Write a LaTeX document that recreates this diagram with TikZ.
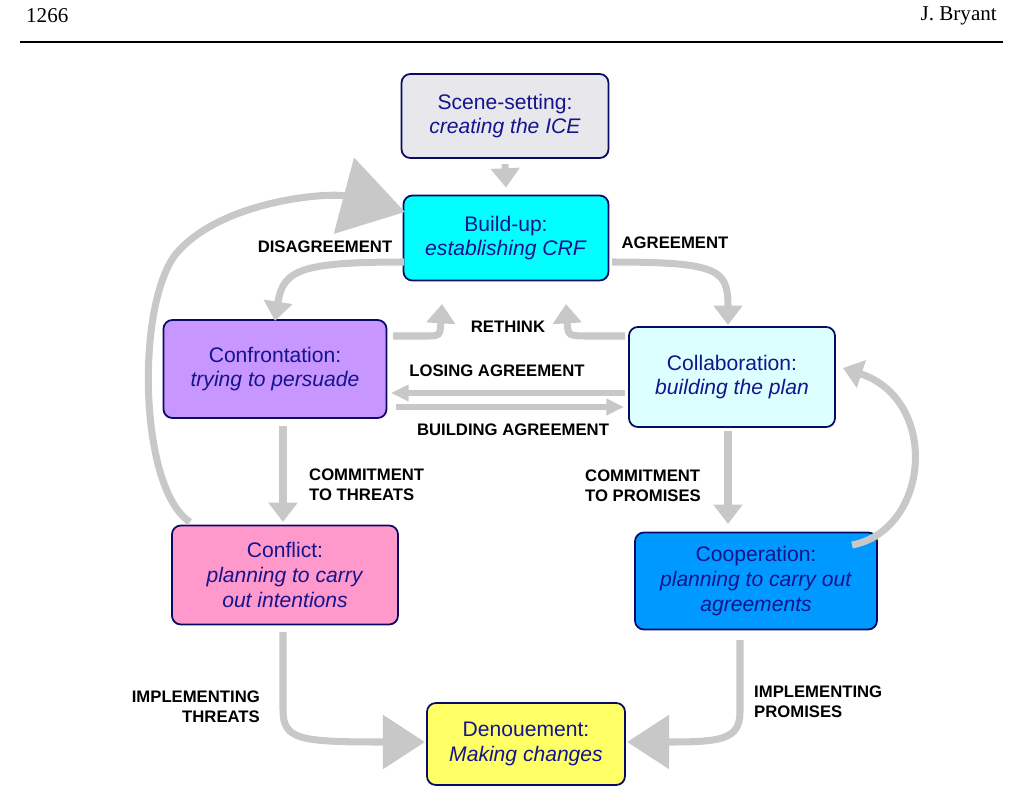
\documentclass[tikz,border=0pt]{standalone}
\usepackage{fontspec}
\setmainfont{Liberation Serif}
\newfontfamily\labelfont{Liberation Sans}
\usetikzlibrary{arrows.meta}

\definecolor{boxline}{RGB}{10,10,100}
\definecolor{boxtext}{RGB}{20,20,140}
\definecolor{arrowgray}{RGB}{200,200,200}
\definecolor{scenefill}{RGB}{232,232,236}
\definecolor{buildfill}{RGB}{0,255,255}
\definecolor{confrontfill}{RGB}{200,150,255}
\definecolor{collabfill}{RGB}{220,255,255}
\definecolor{conflictfill}{RGB}{255,153,204}
\definecolor{coopfill}{RGB}{0,153,255}
\definecolor{denouefill}{RGB}{255,255,102}

\tikzset{
  stage/.style={draw=boxline, line width=1pt, rounded corners=5pt, align=center,
    text=boxtext, font=\labelfont\fontsize{12}{14}\selectfont, inner sep=0pt},
  flow/.style={draw=arrowgray, line width=4pt, -{Triangle[length=11pt,width=16pt]}},
  thin flow/.style={draw=arrowgray, line width=3pt, -{Triangle[length=10pt,width=9pt]}},
  tag/.style={font=\labelfont\bfseries\fontsize{9.5}{11.5}\selectfont}
}

\begin{document}
\begin{tikzpicture}[x=0.02cm, y=-0.02cm]
                \useasboundingbox (0,0) rectangle (1025,802);
                \node[anchor=west, font=\fontsize{12}{14}\selectfont] (pg) at (20,16) {1266};
                \node[anchor=east, font=\fontsize{12}{14}\selectfont] (au) at (1003,16) {J. Bryant};
                \draw[line width=1pt] (20,42) -- (1003,42);
                % stages
                \node[stage, fill=scenefill, minimum width=4.14cm, minimum height=1.68cm] (scene) at (505,116) {Scene-setting:\\\textit{creating the ICE}};
                \node[stage, fill=buildfill, minimum width=4.1cm, minimum height=1.7cm] (build) at (506,238) {Build-up:\\\textit{establishing CRF}};
                \node[stage, fill=confrontfill, minimum width=4.46cm, minimum height=1.96cm] (confront) at (275,369) {Confrontation:\\\textit{trying to persuade}};
                \node[stage, fill=collabfill, minimum width=4.12cm, minimum height=2cm] (collab) at (732,377) {Collaboration:\\\textit{building the plan}};
                \node[stage, fill=conflictfill, minimum width=4.52cm, minimum height=1.98cm] (conflict) at (285,575) {Conflict:\\\textit{planning to carry}\\\textit{out intentions}};
                \node[stage, fill=coopfill, minimum width=4.84cm, minimum height=1.94cm] (coop) at (756,581) {Cooperation:\\\textit{planning to carry out}\\\textit{agreements}};
                \node[stage, fill=denouefill, minimum width=3.96cm, minimum height=1.64cm] (denoue) at (526,744) {Denouement:\\\textit{Making changes}};
                % flows
                \draw[flow] ([yshift=-3pt]scene.south) -- ([yshift=4pt]build.north);
                \draw[flow] (404,262) .. controls (300,262) and (283,270) .. ([yshift=-1pt]confront.north);
                \draw[flow] (612,262) .. controls (720,262) and (728,270) .. (728,325);
                \draw[flow] (393,336) -- (425,336) .. controls (440,336) .. (442,304);
                \draw[flow] (625,336) -- (590,336) .. controls (568,336) .. (566,304);
                \draw[thin flow] (625,393) -- (391,393);
                \draw[thin flow] (396,407) -- (624,407);
                \draw[flow] ([yshift=-4pt]confront.south -| 283,0) -- (283,522);
                \draw[flow] ([yshift=-2pt]collab.south -| 728,0) -- (728,524);
                \draw[draw=arrowgray, line width=4pt, -{Triangle[length=36pt,width=44pt]}]
                  (190,522) .. controls (140,490) and (135,310) .. (175,255)
                  .. controls (220,200) and (330,192) .. (405,212);
                \draw[flow] (852,545) .. controls (930,530) and (940,400) .. (843,368);
                \draw[draw=arrowgray, line width=4pt, -{Triangle[length=24pt,width=30pt]}]
                  (283,632) -- (283,710) .. controls (283,740) and (300,742) .. (425,742);
                \draw[draw=arrowgray, line width=4pt, -{Triangle[length=24pt,width=30pt]}]
                  (740,640) -- (740,712) .. controls (740,740) and (720,742) .. (627,742);
                % labels
                \node[tag] (dis) at (325,247) {DISAGREEMENT};
                \node[tag] (agr) at (675,243) {AGREEMENT};
                \node[tag] (ret) at (508,327) {RETHINK};
                \node[tag] (los) at (497,371) {LOSING AGREEMENT};
                \node[tag] (bld) at (513,430) {BUILDING AGREEMENT};
                \node[tag, anchor=west, align=left] (cth) at (303,485) {COMMITMENT\\TO THREATS};
                \node[tag, anchor=west, align=left] (cpr) at (579,486) {COMMITMENT\\TO PROMISES};
                \node[tag, anchor=east, align=right] (ith) at (266,707) {IMPLEMENTING\\THREATS};
                \node[tag, anchor=west, align=left] (ipr) at (748,702) {IMPLEMENTING\\PROMISES};
            \end{tikzpicture}
\end{document}
